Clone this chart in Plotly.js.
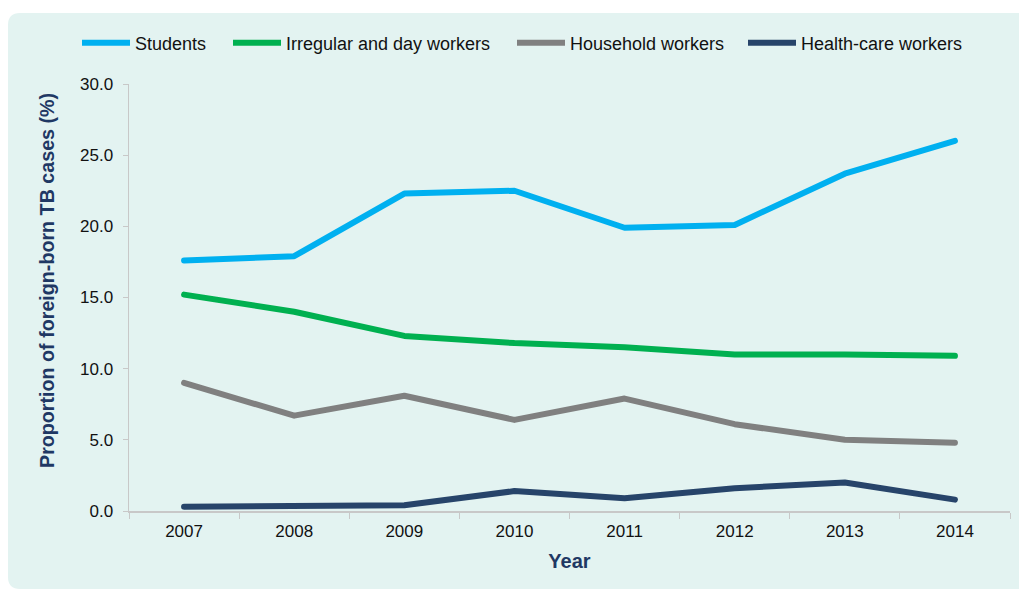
<!DOCTYPE html>
<html>
<head>
<meta charset="utf-8">
<script src="https://cdn.plot.ly/plotly-3.0.1.min.js"></script>
<style>
html,body{margin:0;padding:0;background:#fff;}
#chart{width:1019px;height:590px;}
#chart .scatterlayer .js-line{stroke-linecap:round;stroke-linejoin:round;}
</style>
</head>
<body>
<div id="chart"></div>
<script>
const years = ['2007','2008','2009','2010','2011','2012','2013','2014'];
const students = [17.6, 17.9, 22.3, 22.5, 19.9, 20.1, 23.7, 26.0];
const irregular = [15.2, 14.0, 12.3, 11.8, 11.5, 11.0, 11.0, 10.9];
const household = [9.0, 6.7, 8.1, 6.4, 7.9, 6.1, 5.0, 4.8];
const healthcare = [0.3, 0.4, 0.4, 1.4, 0.9, 1.6, 2.0, 0.8];
const seriesNames = ['Students', 'Irregular and day workers', 'Household workers', 'Health-care workers'];
const colors = ['#00b0f0', '#00b050', '#808080', '#27446a'];
const legendIds = ['legend', 'legend2', 'legend3', 'legend4'];
const legendStartPx = [82, 233, 517, 748];

const allSeries = [students, irregular, household, healthcare];
const traces = allSeries.map((vals, i) => ({
  x: years, y: vals, name: seriesNames[i], type: 'scatter', mode: 'lines',
  line: {color: colors[i], width: 6}, legend: legendIds[i]
}));

const W = 881, H = 427;
const layout = {
  width: 1019, height: 590,
  paper_bgcolor: '#ffffff', plot_bgcolor: 'rgba(0,0,0,0)',
  margin: {l: 129, r: 9, t: 84, b: 79},
  font: {family: 'Liberation Sans, Arial, sans-serif', size: 17, color: '#111'},
  shapes: [{
    type: 'path', xref: 'paper', yref: 'paper', layer: 'below',
    path: (function(){
      const px = v => (v - 129) / W;
      const py = v => (511 - v) / H;
      const x0 = 8, y0 = 13, x1 = 1025, y1 = 589, r = 12;
      return `M ${px(x0+r)} ${py(y0)} L ${px(x1)} ${py(y0)} L ${px(x1)} ${py(y1)} L ${px(x0+r)} ${py(y1)} Q ${px(x0)} ${py(y1)} ${px(x0)} ${py(y1-r)} L ${px(x0)} ${py(y0+r)} Q ${px(x0)} ${py(y0)} ${px(x0+r)} ${py(y0)} Z`;
    })(),
    fillcolor: '#e3f3f1', line: {width: 0}
  }],
  annotations: [{
    text: '<b>Proportion of foreign-born TB cases (%)</b>', textangle: -90,
    xref: 'paper', yref: 'paper', x: (47 - 129) / W, y: (511 - 281) / H,
    xanchor: 'center', yanchor: 'middle', showarrow: false,
    font: {size: 19.7, color: '#1f3864'}
  }],
  xaxis: {
    type: 'category', range: [-0.5, 7.5], showgrid: false, zeroline: false,
    showline: true, linecolor: '#c8c8c8', linewidth: 1.5,
    ticks: 'outside', tickson: 'boundaries', ticklen: 6, tickcolor: '#c8c8c8',
    tickfont: {size: 17, color: '#111'}, ticklabelstandoff: 4,
    title: {text: 'Year', font: {size: 20, color: '#1f3864', weight: 'bold'}, standoff: 14},
    automargin: false, fixedrange: true
  },
  yaxis: {
    range: [0, 30], dtick: 5, tickformat: '.1f', showgrid: false, zeroline: false,
    showline: true, linecolor: '#c8c8c8', linewidth: 1.5,
    ticks: 'outside', ticklen: 5, tickcolor: '#c8c8c8',
    tickfont: {size: 17, color: '#111'}, ticklabelstandoff: 6,
    automargin: false, fixedrange: true
  },
  showlegend: true
};
legendIds.forEach((id, i) => {
  layout[id] = {
    orientation: 'h', x: (legendStartPx[i] - 5 - 129) / W, xanchor: 'left',
    y: 1.0 + (84 - 43) / H, yanchor: 'middle',
    font: {size: 18, color: '#111'}, bgcolor: 'rgba(0,0,0,0)', itemwidth: 48
  };
});

Plotly.newPlot('chart', traces, layout, {displayModeBar: false, staticPlot: true});
</script>
</body>
</html>
